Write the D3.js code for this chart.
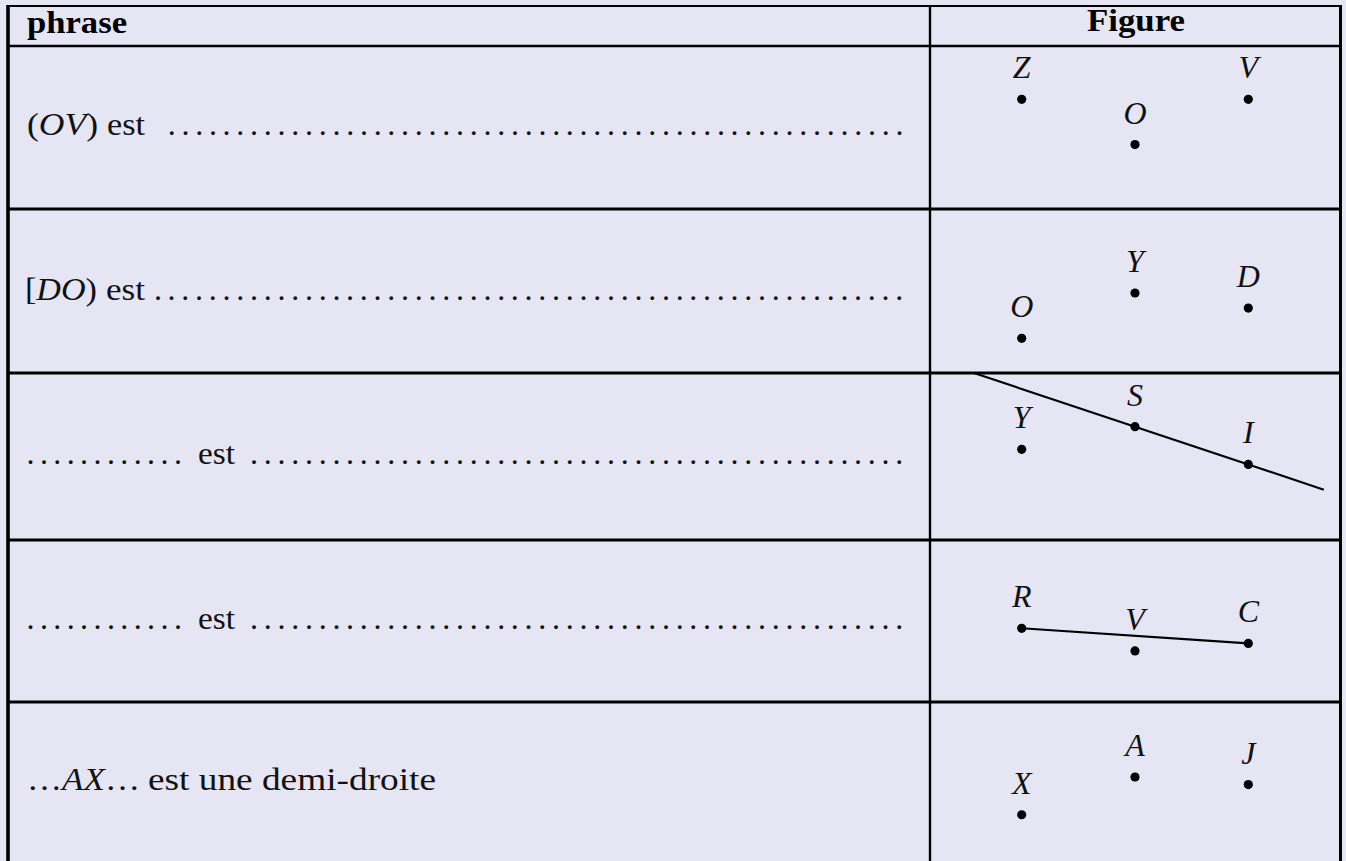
<!DOCTYPE html>
<html>
<head>
<meta charset="utf-8">
<script src="https://cdn.jsdelivr.net/npm/d3@7"></script>
<style>
  html, body { margin: 0; padding: 0; background: #e5e5f4; }
  svg { display: block; }
</style>
</head>
<body>
<svg id="chart" width="1346" height="861"></svg>
<script>
// ---------- data ----------
const headers = ["phrase", "Figure"];

// each phrase: list of [text, italic?]
const phraseLeads = [
  [["(", 0], ["OV", 1], [")", 0]],
  [["[", 0], ["DO", 1], [")", 0]],
  [["............", 0]],
  [["............", 0]],
  [["…", 0], ["AX", 1], ["…", 0]]
];
const phraseVerbs = ["est", "est", "est", "est", "est une demi-droite"];
const phraseHasFill = [true, true, true, true, false];

// figure points (x, y in cm of each little figure)
const fig1 = [{n: "Z", x: 0, y: 0}, {n: "O", x: 3, y: -1.2}, {n: "V", x: 6, y: 0}];
const fig2 = [{n: "O", x: 0, y: -1.2}, {n: "Y", x: 3, y: 0}, {n: "D", x: 6, y: -0.4}];
const fig3 = [{n: "Y", x: 0, y: -0.6}, {n: "S", x: 3, y: 0}, {n: "I", x: 6, y: -1}];
const fig4 = [{n: "R", x: 0, y: 0}, {n: "V", x: 3, y: -0.6}, {n: "C", x: 6, y: -0.4}];
const fig5 = [{n: "X", x: 0, y: -1}, {n: "A", x: 3, y: 0}, {n: "J", x: 6, y: -0.2}];
const figures = [fig1, fig2, fig3, fig4, fig5];
// straight objects drawn in the figures
const figLines = [
  {fig: 2, type: "droite", a: "S", b: "I", xFrom: -1.5, xTo: 8},
  {fig: 3, type: "segment", a: "R", b: "C"}
];

// ---------- layout ----------
const L = {
  left: 8, mid: 930, right: 1340.5, top: 6,
  rows: [46, 209, 373, 540, 702, 900],
  anchors: [99.3, 293, 426.7, 628.3, 777],
  baselines: [134.5, 299.5, 463.5, 628.5, 789.5],
  font: "'Liberation Serif', 'Times New Roman', serif",
  fs: 32,
  dotStep: 13.73, dotLast: 899.3
};

const svg = d3.select("#chart");
svg.append("rect").attr("width", 1346).attr("height", 861).attr("fill", "#e5e5f4");

const xFig = d3.scaleLinear().domain([0, 6]).range([1021.7, 1248.3]);
const cm = (1248.3 - 1021.7) / 6;
const yFig = figures.map((f, i) => d3.scaleLinear().domain([0, -1]).range([L.anchors[i], L.anchors[i] + cm]));

// ---------- header ----------
svg.append("text").attr("x", 27).attr("y", 33)
  .attr("font-family", L.font).attr("font-weight", "bold").attr("font-size", L.fs)
  .attr("textLength", 100).attr("lengthAdjust", "spacingAndGlyphs")
  .text(headers[0]);
svg.append("text").attr("x", 1087).attr("y", 30.5)
  .attr("font-family", L.font).attr("font-weight", "bold").attr("font-size", L.fs)
  .attr("textLength", 98).attr("lengthAdjust", "spacingAndGlyphs")
  .text(headers[1]);

// ---------- phrases ----------
const leadLayout = [
  {x: 27, w: 71}, {x: 25, w: 72}, {x: 26.5, w: 164}, {x: 26.5, w: 164}, {x: 27, w: 113}
];
const verbLayout = [
  {x: 107, w: 38}, {x: 106, w: 39}, {x: 198, w: 37}, {x: 198, w: 37}, {x: 148, w: 288}
];
const fillStart = [171.7, 157.9, 254.0, 254.0];

phraseLeads.forEach((parts, i) => {
  const isDots = parts.length === 1;
  const t = svg.append("text")
    .attr("x", leadLayout[i].x).attr("y", L.baselines[i])
    .attr("font-family", L.font).attr("font-size", L.fs).attr("fill", "#111");
  if (isDots) {
    t.attr("letter-spacing", 13.4 - 0.25 * L.fs).text(parts[0][0]);
  } else {
    t.attr("textLength", leadLayout[i].w).attr("lengthAdjust", "spacingAndGlyphs");
    parts.forEach(p => {
      t.append("tspan").attr("font-style", p[1] ? "italic" : "normal").text(p[0]);
    });
  }
  svg.append("text")
    .attr("x", verbLayout[i].x).attr("y", L.baselines[i])
    .attr("font-family", L.font).attr("font-size", L.fs).attr("fill", "#111")
    .attr("textLength", verbLayout[i].w).attr("lengthAdjust", "spacingAndGlyphs")
    .text(phraseVerbs[i]);
  if (phraseHasFill[i]) {
    const n = Math.round((L.dotLast - fillStart[i]) / L.dotStep) + 1;
    svg.append("text")
      .attr("x", fillStart[i] - 0.125 * L.fs).attr("y", L.baselines[i])
      .attr("font-family", L.font).attr("font-size", L.fs).attr("fill", "#111")
      .attr("letter-spacing", L.dotStep - 0.25 * L.fs)
      .text(".".repeat(n));
  }
});

// ---------- figures ----------
const defs = svg.append("defs");
figures.forEach((pts, i) => {
  defs.append("clipPath").attr("id", "clip" + i)
    .append("rect").attr("x", L.mid).attr("y", L.rows[i])
    .attr("width", L.right - L.mid).attr("height", L.rows[i + 1] - L.rows[i]);
});

figLines.forEach(l => {
  const pts = figures[l.fig];
  const a = pts.find(p => p.n === l.a), b = pts.find(p => p.n === l.b);
  let p1 = a, p2 = b;
  if (l.type === "droite") {
    const slope = (b.y - a.y) / (b.x - a.x);
    p1 = {x: l.xFrom, y: a.y + slope * (l.xFrom - a.x)};
    p2 = {x: l.xTo, y: a.y + slope * (l.xTo - a.x)};
  }
  svg.append("line")
    .attr("clip-path", `url(#clip${l.fig})`)
    .attr("x1", xFig(p1.x)).attr("y1", yFig[l.fig](p1.y))
    .attr("x2", xFig(p2.x)).attr("y2", yFig[l.fig](p2.y))
    .attr("stroke", "#000").attr("stroke-width", 2.1);
});

figures.forEach((pts, i) => {
  const g = svg.append("g");
  g.selectAll("circle").data(pts).join("circle")
    .attr("cx", d => xFig(d.x)).attr("cy", d => yFig[i](d.y))
    .attr("r", 4.6).attr("fill", "#000");
  g.selectAll("text").data(pts).join("text")
    .attr("x", d => xFig(d.x)).attr("y", d => yFig[i](d.y) - 21)
    .attr("text-anchor", "middle")
    .attr("font-family", L.font).attr("font-style", "italic").attr("font-size", 32)
    .attr("fill", "#111")
    .text(d => d.n);
});

// ---------- table rules ----------
const rules = svg.append("g").attr("stroke", "#000").attr("fill", "none");
rules.append("line").attr("x1", L.left).attr("x2", L.right).attr("y1", L.top).attr("y2", L.top).attr("stroke-width", 2.2);
L.rows.slice(0, 5).forEach((y, i) => {
  rules.append("line").attr("x1", L.left).attr("x2", L.right).attr("y1", y).attr("y2", y)
    .attr("stroke-width", i === 0 ? 2.4 : 3);
});
rules.append("line").attr("x1", L.left).attr("x2", L.left).attr("y1", L.top - 1).attr("y2", 861).attr("stroke-width", 3.6);
rules.append("line").attr("x1", L.mid).attr("x2", L.mid).attr("y1", L.top).attr("y2", 861).attr("stroke-width", 2.4);
rules.append("line").attr("x1", L.right).attr("x2", L.right).attr("y1", L.top - 1).attr("y2", 861).attr("stroke-width", 3);
</script>
</body>
</html>
